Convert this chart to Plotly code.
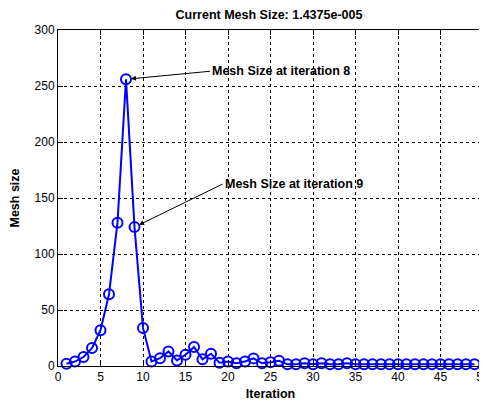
import plotly.graph_objects as go

iterations = list(range(1, 50))
mesh_size = [2, 4, 8, 16, 32, 64, 128, 256, 124, 34,
             4, 7, 13, 5, 10, 17, 6, 11, 3, 4,
             2.4, 4, 6.8, 2.4, 3.3, 4.7, 1.5, 1.5, 2.5, 1.5,
             2.5, 1.5, 1.5, 2.5, 1.5, 1.5, 1.5, 1.5, 1.5, 1.5,
             1.5, 1.5, 1.5, 1.5, 1.5, 1.5, 1.5, 1.5, 1.5]
x_ticks = [0, 5, 10, 15, 20, 25, 30, 35, 40, 45, 50]
y_ticks = [0, 50, 100, 150, 200, 250, 300]
title_text = "Current Mesh Size: 1.4375e-005"
x_label = "Iteration"
y_label = "Mesh size"
notes = [(8, "Mesh Size at iteration 8"), (9, "Mesh Size at iteration 9")]

FONT = "Liberation Sans, Arial"
# The page body has an 8px default margin; the figure is sized so it fills the
# remaining 479x393 area of the 487x401 window.
W, H = 479, 393

fig = go.Figure()
fig.add_trace(go.Scatter(
    x=iterations, y=mesh_size, mode="lines+markers",
    line=dict(color="#0000FF", width=2),
    marker=dict(symbol="circle-open", size=10, color="#0000FF",
                line=dict(width=2, color="#0000FF")),
    showlegend=False, cliponaxis=False,
))

offsets = {8: (84, -8), 9: (88, -43)}
for it, txt in notes:
    ax, ay = offsets[it]
    fig.add_annotation(
        x=it, y=mesh_size[it - 1], text="<b>" + txt + "</b>",
        showarrow=True, arrowhead=2, arrowsize=1, arrowwidth=1,
        arrowcolor="black", ax=ax, ay=ay, xanchor="left", yanchor="middle",
        standoff=5, font=dict(family=FONT, size=12.5, color="black"),
    )

axis_common = dict(
    showline=True, linecolor="black", linewidth=1, mirror="ticks",
    ticks="inside", ticklen=5, tickcolor="black",
    showgrid=True, gridcolor="black", gridwidth=1, griddash="dot",
    zeroline=False, automargin=False, ticklabeloverflow="allow",
    tickfont=dict(family=FONT, size=12, color="black"),
)

fig.update_xaxes(range=[0, 50], tickvals=x_ticks,
                 title=dict(text="<b>" + x_label + "</b>", standoff=10,
                            font=dict(family=FONT, size=12.5, color="black")),
                 **axis_common)
fig.update_yaxes(range=[0, 300], tickvals=y_ticks,
                 title=dict(text="<b>" + y_label + "</b>", standoff=12,
                            font=dict(family=FONT, size=12.5, color="black")),
                 **axis_common)

fig.update_layout(
    width=W, height=H,
    margin=dict(l=50, r=4, t=22, b=35, autoexpand=False),
    paper_bgcolor="white", plot_bgcolor="white",
    title=dict(text="<b>" + title_text + "</b>", x=261 / W, xanchor="center",
               y=1 - 7 / H, yanchor="middle",
               font=dict(family=FONT, size=12.5, color="black")),
)

fig.write_html("out.html")
